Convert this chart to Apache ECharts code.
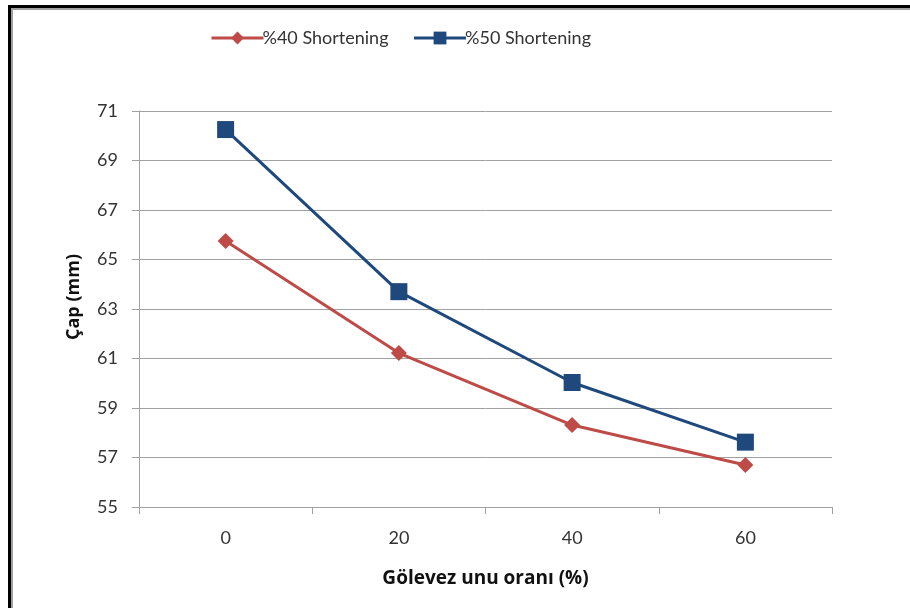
<!DOCTYPE html>
<html><head><meta charset="utf-8">
<script src="https://cdn.jsdelivr.net/npm/echarts@6/dist/echarts.min.js"></script>
<style>html,body{margin:0;padding:0;background:#fff}#c{width:910px;height:608px}</style>
</head><body><div id="c"></div>
<script>
var categories = ['0', '20', '40', '60'];
var s40 = [65.75, 61.22, 58.31, 56.70];
var s50 = [70.25, 63.70, 60.03, 57.62];
var yTicks = [55, 57, 59, 61, 63, 65, 67, 69, 71];
var seriesNames = ['%40 Shortening', '%50 Shortening'];

var font = 'Lato, "Open Sans", sans-serif';
var boldFont = '"Open Sans", Lato, sans-serif';
var chart = echarts.init(document.getElementById('c'));
chart.setOption({
  animation: false,
  backgroundColor: '#fff',
  graphic: [
    {type: 'rect', shape: {x: 8, y: 5, width: 3, height: 610}, style: {fill: '#000'}},
    {type: 'rect', shape: {x: 8, y: 5, width: 910, height: 3}, style: {fill: '#000'}},
    {type: 'rect', shape: {x: 11, y: 8, width: 2, height: 610}, style: {fill: '#a0a0a0'}},
    {type: 'rect', shape: {x: 11, y: 8, width: 910, height: 2}, style: {fill: '#a0a0a0'}}
  ],
  legend: {
    top: 24, left: 205,
    itemWidth: 52, itemHeight: 16, itemGap: 24,
    lineStyle: {width: 3},
    textStyle: {fontFamily: font, fontSize: 18, color: '#333', padding: [0, 0, 0, -6]},
    data: seriesNames
  },
  grid: {left: 139, right: 78, top: 111, bottom: 101},
  xAxis: {
    type: 'category', data: categories, boundaryGap: true,
    name: 'Gölevez unu oranı (%)', nameLocation: 'middle', nameGap: 62,
    nameTextStyle: {fontFamily: boldFont, fontSize: 19, fontWeight: 'bold', color: '#111'},
    axisLine: {lineStyle: {color: '#a0a0a0', width: 1}},
    axisTick: {show: true, length: 7, lineStyle: {color: '#a0a0a0'}},
    axisLabel: {fontFamily: font, fontSize: 18, color: '#333', margin: 22}
  },
  yAxis: {
    type: 'value', min: 55, max: 71, interval: 2,
    name: 'Çap (mm)', nameLocation: 'middle', nameGap: 56, nameRotate: 90,
    nameTextStyle: {fontFamily: boldFont, fontSize: 18, fontWeight: 'bold', color: '#111', padding: [0, 0, 0, 24]},
    axisLine: {show: true, lineStyle: {color: '#a0a0a0'}},
    axisTick: {show: true, inside: false, length: 7, lineStyle: {color: '#a0a0a0'}},
    splitLine: {lineStyle: {color: '#a0a0a0'}},
    axisLabel: {fontFamily: font, fontSize: 18, color: '#333', margin: 21,
      formatter: function (v) { return yTicks.indexOf(v) >= 0 ? String(v) : ''; }}
  },
  series: [
    {name: seriesNames[0], type: 'line', data: s40, symbol: 'diamond', symbolSize: 16,
     lineStyle: {color: '#BE4B48', width: 3}, itemStyle: {color: '#BE4B48'}},
    {name: seriesNames[1], type: 'line', data: s50, symbol: 'rect', symbolSize: 17,
     lineStyle: {color: '#1F497D', width: 3}, itemStyle: {color: '#1F497D'}}
  ]
});
</script></body></html>
